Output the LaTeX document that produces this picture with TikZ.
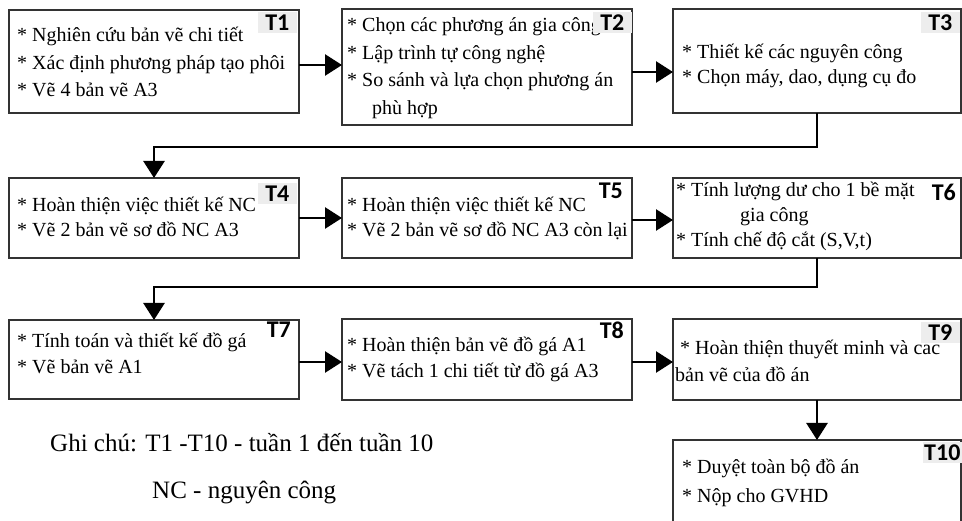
\documentclass[tikz,border=0pt]{standalone}
\usepackage{fontspec}
\setmainfont{Liberation Serif}
\newfontfamily\labfont{Carlito}
\usetikzlibrary{arrows.meta,calc}
\begin{document}
\begin{tikzpicture}[x=1pt,y=-1pt,
  box/.style={draw=black!80,line width=1.3pt,anchor=north west,inner sep=0,outer sep=0},
  ln/.style={anchor=base west,inner sep=0,font=\fontsize{20}{24}\selectfont},
  tag/.style={font=\labfont\bfseries\fontsize{24}{26}\selectfont,inner sep=0},
  gtag/.style={tag,fill=black!7,minimum width=39pt,minimum height=21pt,anchor=north east},
  ptag/.style={tag,anchor=base east},
  arr/.style={line width=2.6pt,-{Triangle[length=17pt,width=21pt]}},
  note/.style={anchor=base west,inner sep=0,font=\fontsize{25}{30}\selectfont}]
\path[use as bounding box] (0,0) rectangle (962,521);
\clip (0,0) rectangle (962,521);
\fill[white] (0,0) rectangle (962,521);

% boxes
\node[box,minimum width=290pt,minimum height=103pt] (t1) at (9,10) {};
\node[box,minimum width=290pt,minimum height=116pt] (t2) at (342,9) {};
\node[box,minimum width=288pt,minimum height=104pt] (t3) at (673,9) {};
\node[box,minimum width=290pt,minimum height=80pt] (t4) at (9,178) {};
\node[box,minimum width=290pt,minimum height=80pt] (t5) at (342,178) {};
\node[box,minimum width=288pt,minimum height=80pt] (t6) at (673,178) {};
\node[box,minimum width=290pt,minimum height=79pt] (t7) at (9,320) {};
\node[box,minimum width=290pt,minimum height=81pt] (t8) at (342,319) {};
\node[box,minimum width=288pt,minimum height=81pt] (t9) at (673,319) {};
\node[box,minimum width=288pt,minimum height=100pt] (t10) at (673,440) {};

% texts
\node[ln] (a1) at (17,42) {* Nghiên cứu bản vẽ chi tiết};
\node[ln] (a2) at (17,69.5) {* Xác định phương pháp tạo phôi};
\node[ln] (a3) at (17,97) {* Vẽ 4 bản vẽ A3};

\node[ln] (b1) at (347,32) {* Chọn các phương án gia công};
\node[ln] (b2) at (347,59.5) {* Lập trình tự công nghệ};
\node[ln] (b3) at (347,87) {* So sánh và lựa chọn phương án};
\node[ln] (b4) at (372,114.5) {phù hợp};

\node[ln] (c1) at (682,59) {* Thiết kế các nguyên công};
\node[ln] (c2) at (682,84) {* Chọn máy, dao, dụng cụ đo};

\node[ln] (d1) at (17,212) {* Hoàn thiện việc thiết kế NC};
\node[ln] (d2) at (17,237) {* Vẽ 2 bản vẽ sơ đồ NC A3};

\node[ln] (e1) at (347,212) {* Hoàn thiện việc thiết kế NC};
\node[ln] (e2) at (347,237) {* Vẽ 2 bản vẽ sơ đồ NC A3 còn lại};

\node[ln] (f1) at (676,197) {* Tính lượng dư cho 1 bề mặt};
\node[ln] (f2) at (740,222) {gia công};
\node[ln] (f3) at (676,247) {* Tính chế độ cắt (S,V,t)};

\node[ln] (g1) at (17,348) {* Tính toán và thiết kế đồ gá};
\node[ln] (g2) at (17,374) {* Vẽ bản vẽ A1};

\node[ln] (h1) at (347,352) {* Hoàn thiện bản vẽ đồ gá A1};
\node[ln] (h2) at (347,378) {* Vẽ tách 1 chi tiết từ đồ gá A3};

\node[ln] (i1) at (680,355) {* Hoàn thiện thuyết minh và các};
\node[ln] (i2) at (675,382) {bản vẽ của đồ án};

\node[ln] (j1) at (682,473) {* Duyệt toàn bộ đồ án};
\node[ln] (j2) at (682,502) {* Nộp cho GVHD};

% tags
\node[gtag] (l1) at (297,12) {T1};
\node[gtag] (l2) at (632,12) {T2};
\node[gtag] (l3) at (960,12) {T3};
\node[gtag] (l4) at (297,183) {T4};
\node[ptag] (l5) at (623,199) {T5};
\node[ptag] (l6) at (956,201) {T6};
\node[ptag] (l7) at (291,338) {T7};
\node[ptag] (l8) at (624,339) {T8};
\node[gtag] (l9) at (960,322) {T9};
\node[gtag] (l10) at (962,442) {T10};

% note
\node[note] (n1) at (50,451) {Ghi chú: T1 -T10 - tuần 1 đến tuần 10};
\node[note] (n2) at (152,498) {NC - nguyên công};

% connectors
\draw[arr] ($(t1.east)+(0,3.5)$) coordinate (p1) -- (p1 -| t2.west);
\draw[arr] ($(t2.east)+(0,5)$) coordinate (p2) -- (p2 -| t3.west);
\draw[arr] (t3.south) -- ++(0,34) -| (t4.north);
\draw[arr] (t4.east) -- (t5.west);
\draw[arr] ($(t5.east)+(0,2)$) coordinate (p5) -- (p5 -| t6.west);
\draw[arr] (t6.south) -- ++(0,29) -| (t7.north);
\draw[arr] ($(t7.east)+(0,2.5)$) coordinate (p7) -- (p7 -| t8.west);
\draw[arr] ($(t8.east)+(0,2.5)$) coordinate (p8) -- (p8 -| t9.west);
\draw[arr] (t9.south) -- (t10.north);
\end{tikzpicture}
\end{document}
